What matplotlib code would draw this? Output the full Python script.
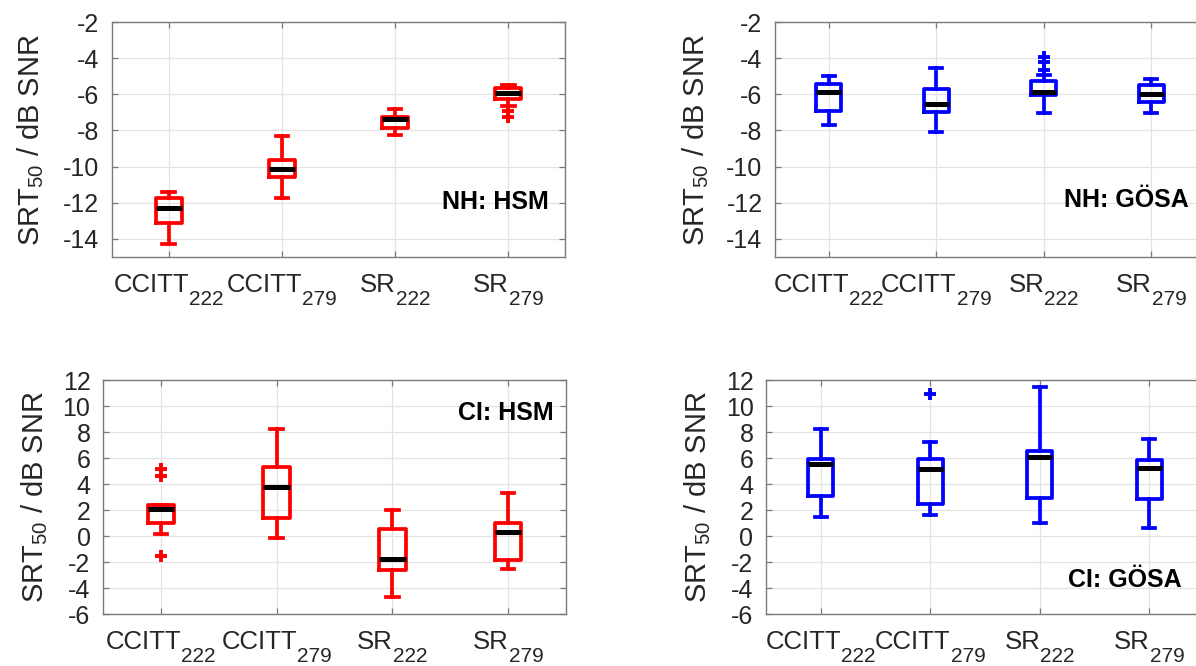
import matplotlib
matplotlib.use("Agg")
import matplotlib.pyplot as plt
from matplotlib.transforms import blended_transform_factory, offset_copy

plt.rcParams['font.family'] = ['Liberation Sans', 'DejaVu Sans']
plt.rcParams['mathtext.fontset'] = 'custom'
plt.rcParams['mathtext.rm'] = 'Liberation Sans'
plt.rcParams['mathtext.it'] = 'Liberation Sans:italic'
plt.rcParams['mathtext.bf'] = 'Liberation Sans:bold'

# ---------------- data ----------------
cat_names = ['CCITT', 'CCITT', 'SR', 'SR']
cat_subs = ['222', '279', '222', '279']

# NH: HSM
nh_hsm_low = [-14.3, -11.75, -8.24, -6.65]
nh_hsm_q1 = [-13.14, -10.56, -7.85, -6.28]
nh_hsm_med = [-12.27, -10.12, -7.39, -5.95]
nh_hsm_q3 = [-11.74, -9.62, -7.28, -5.67]
nh_hsm_high = [-11.42, -8.29, -6.79, -5.48]
nh_hsm_out = [[], [], [], [-6.9, -7.24]]

# NH: GÖSA
nh_gosa_low = [-7.69, -8.09, -7.05, -7.02]
nh_gosa_q1 = [-6.93, -6.97, -6.03, -6.42]
nh_gosa_med = [-5.88, -6.55, -5.85, -5.96]
nh_gosa_q3 = [-5.44, -5.68, -5.25, -5.5]
nh_gosa_high = [-4.96, -4.54, -4.95, -5.17]
nh_gosa_out = [[], [], [-3.95, -4.2, -4.65], []]

# CI: HSM
ci_hsm_low = [0.15, -0.19, -4.67, -2.54]
ci_hsm_q1 = [0.99, 1.38, -2.59, -1.88]
ci_hsm_med = [2.09, 3.78, -1.75, 0.33]
ci_hsm_q3 = [2.4, 5.27, 0.53, 0.99]
ci_hsm_high = [2.4, 8.21, 1.99, 3.30]
ci_hsm_out = [[5.16, 4.58, -1.52], [], [], []]

# CI: GÖSA
ci_gosa_low = [1.5, 1.61, 0.99, 0.58]
ci_gosa_q1 = [3.04, 2.48, 2.91, 2.83]
ci_gosa_med = [5.52, 5.14, 6.11, 5.24]
ci_gosa_q3 = [5.91, 5.91, 6.57, 5.86]
ci_gosa_high = [8.21, 7.21, 11.49, 7.44]
ci_gosa_out = [[], [10.92], [], []]

nh_yticks = [-14, -12, -10, -8, -6, -4, -2]
ci_yticks = [-6, -4, -2, 0, 2, 4, 6, 8, 10, 12]

# ---------------- figure ----------------
fig = plt.figure(figsize=(11.96, 6.66), dpi=100)

panels = [
    ([112/1196, 1-257/666, 453/1196, 235/666], 'red',
     (nh_hsm_low, nh_hsm_q1, nh_hsm_med, nh_hsm_q3, nh_hsm_high, nh_hsm_out),
     (-15, -2), nh_yticks, 'NH: HSM', (0.965, 0.234), -0.146),
    ([775/1196, 1-257/666, 430/1196, 235/666], 'blue',
     (nh_gosa_low, nh_gosa_q1, nh_gosa_med, nh_gosa_q3, nh_gosa_high, nh_gosa_out),
     (-15, -2), nh_yticks, 'NH: GÖSA', (0.963, 0.243), -0.149),
    ([103/1196, 1-614/666, 463/1196, 234/666], 'red',
     (ci_hsm_low, ci_hsm_q1, ci_hsm_med, ci_hsm_q3, ci_hsm_high, ci_hsm_out),
     (-6, 12), ci_yticks, 'CI: HSM', (0.973, 0.859), -0.114),
    ([766/1196, 1-614/666, 438/1196, 234/666], 'blue',
     (ci_gosa_low, ci_gosa_q1, ci_gosa_med, ci_gosa_q3, ci_gosa_high, ci_gosa_out),
     (-6, 12), ci_yticks, 'CI: GÖSA', (0.950, 0.145), -0.121),
]

positions = [1, 2, 3, 4]
label_pairs = []

for rect, col, st, ylim, yt, txt, tpos, ylx in panels:
    ax = fig.add_axes(rect)
    low, q1, med, q3, high, out = st
    stats = []
    for i in range(4):
        stats.append(dict(whislo=low[i], q1=q1[i], med=med[i], q3=q3[i],
                          whishi=high[i], fliers=out[i]))
    ax.bxp(stats, positions=positions, widths=0.23, capwidths=0.11,
           boxprops=dict(color=col, lw=2.7),
           whiskerprops=dict(color=col, lw=2.7),
           capprops=dict(color=col, lw=2.7),
           medianprops=dict(color='black', lw=3.6),
           flierprops=dict(marker='+', markeredgecolor=col, markerfacecolor=col,
                           markersize=9, markeredgewidth=2.8, linestyle='none'),
           showfliers=True, manage_ticks=False, zorder=3)
    ax.set_xlim(0.5, 4.5)
    ax.set_ylim(*ylim)
    ax.set_yticks(yt)
    ax.set_yticklabels([str(v) for v in yt])
    ax.set_xticks(positions)
    ax.set_xticklabels([])
    ax.grid(True, color='#e3e3e3', lw=0.9, zorder=0)
    ax.set_axisbelow(True)
    for sp in ax.spines.values():
        sp.set_color('#7a7a7a')
        sp.set_linewidth(1.0)
    ax.tick_params(direction='in', top=True, right=True, length=4, width=0.9,
                   color='#7a7a7a', labelcolor='#262626', labelsize=18)
    ax.tick_params(axis='y', pad=9)
    ax.set_ylabel('SRT$_{50}$ / dB SNR', fontsize=21, color='#262626')
    ax.yaxis.set_label_coords(ylx, 0.5)
    ax.text(tpos[0], tpos[1], txt, transform=ax.transAxes, ha='right', va='center',
            fontsize=18, fontweight='bold', color='black')

    # x tick labels with MATLAB-like low subscripts
    trans = blended_transform_factory(ax.transData, ax.transAxes)
    for p, n, s in zip(positions, cat_names, cat_subs):
        tm = ax.text(p, 0, n, transform=trans, ha='left', va='baseline',
                     fontsize=18.5, color='#262626')
        ts = ax.text(p, 0, s, transform=trans, ha='left', va='baseline',
                     fontsize=15, color='#262626')
        label_pairs.append((tm, ts, trans))

fig.canvas.draw()
renderer = fig.canvas.get_renderer()
for tm, ts, trans in label_pairs:
    w1 = tm.get_window_extent(renderer).width
    w2 = ts.get_window_extent(renderer).width
    total = w1 + w2
    tm.set_transform(offset_copy(trans, fig=fig, x=-total / 2, y=-35, units='dots'))
    ts.set_transform(offset_copy(trans, fig=fig, x=-total / 2 + w1, y=-48, units='dots'))

fig.savefig('out.png', dpi=100)
